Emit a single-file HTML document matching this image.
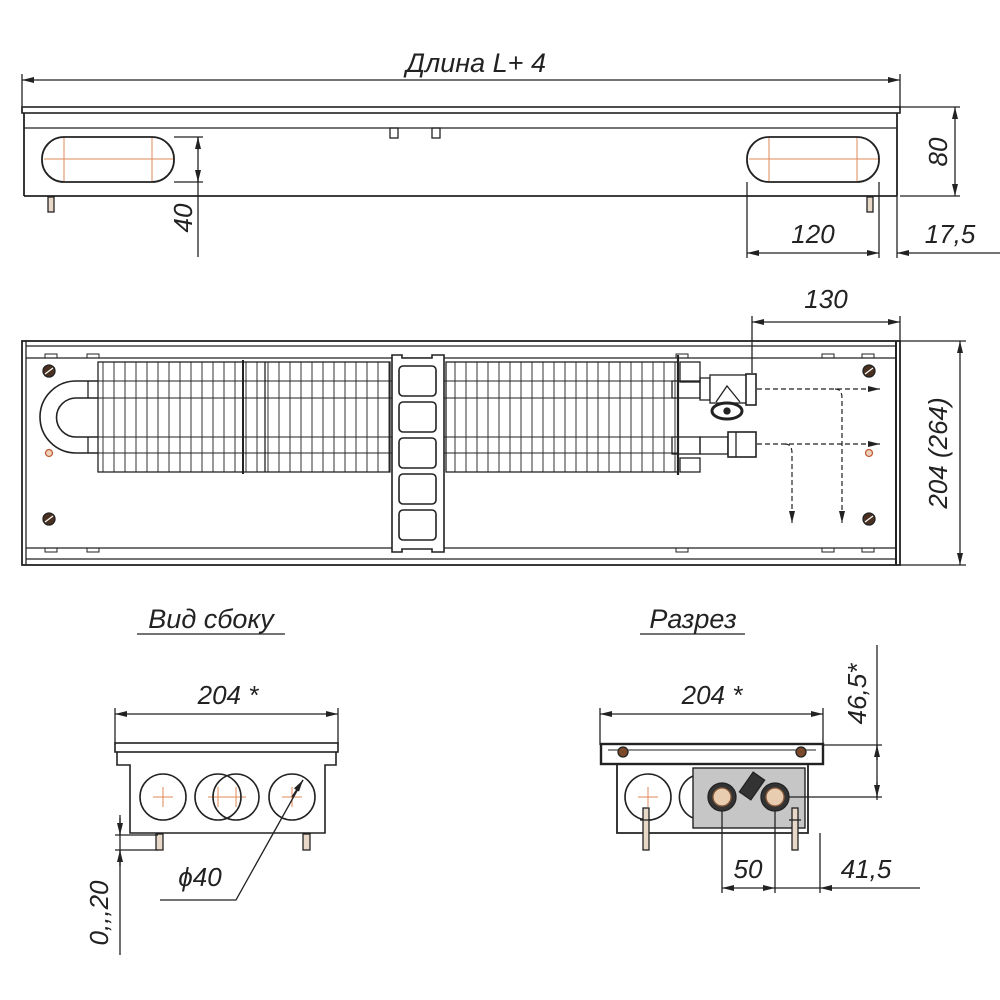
<!DOCTYPE html>
<html><head><meta charset="utf-8"><style>
html,body{margin:0;padding:0;background:#fff}
svg{display:block}
text{font-family:"Liberation Sans",sans-serif;font-style:italic;fill:#222}
</style></head><body>
<svg width="1000" height="1000" viewBox="0 0 1000 1000" xmlns="http://www.w3.org/2000/svg">
<defs>
<marker id="a" viewBox="0 0 12 6" refX="12" refY="3" markerWidth="12" markerHeight="6" orient="auto-start-reverse" markerUnits="userSpaceOnUse"><path d="M0,0 L12,3 L0,6 z" fill="#222"/></marker>
<pattern id="fins" x="98" y="0" width="11" height="10" patternUnits="userSpaceOnUse"><line x1="5" y1="0" x2="5" y2="10" stroke="#333" stroke-width="1"/></pattern>
</defs>
<g stroke="#222" fill="none" stroke-width="1.3">
<!-- TOP VIEW -->
<line x1="22" y1="80" x2="900" y2="80" marker-start="url(#a)" marker-end="url(#a)"/>
<line x1="22" y1="74" x2="22" y2="112"/><line x1="900" y1="74" x2="900" y2="110"/>
<rect x="22" y="107" width="878" height="6" stroke-width="1.6"/>
<line x1="24" y1="113" x2="24" y2="196" stroke-width="1.8"/>
<line x1="897" y1="113" x2="897" y2="196" stroke-width="1.8"/>
<line x1="24" y1="128" x2="897" y2="128"/>
<line x1="24" y1="196" x2="897" y2="196" stroke-width="1.8"/>
<rect x="390" y="128" width="8" height="10"/><rect x="432" y="128" width="8" height="10"/>
<g stroke="#e08a55" stroke-width="1"><line x1="44" y1="159" x2="174" y2="159"/><line x1="64" y1="138" x2="64" y2="181"/><line x1="152" y1="138" x2="152" y2="181"/>
<line x1="749" y1="159" x2="879" y2="159"/><line x1="769" y1="138" x2="769" y2="181"/><line x1="857" y1="138" x2="857" y2="181"/></g>
<rect x="42" y="137" width="132" height="45" rx="22" stroke-width="1.8"/>
<rect x="747" y="137" width="132" height="45" rx="22" stroke-width="1.8"/>
<rect x="48" y="197" width="6" height="15" fill="#e8d8c8"/><rect x="867" y="197" width="6" height="15" fill="#e8d8c8"/>
<line x1="174" y1="137" x2="203" y2="137"/><line x1="174" y1="182" x2="203" y2="182"/>
<line x1="198" y1="137" x2="198" y2="257"/>
<line x1="198" y1="150" x2="198" y2="137" marker-end="url(#a)"/><line x1="198" y1="170" x2="198" y2="182" marker-end="url(#a)"/>
<line x1="900" y1="107" x2="960" y2="107"/><line x1="900" y1="196" x2="960" y2="196"/>
<line x1="955" y1="107" x2="955" y2="196" marker-start="url(#a)" marker-end="url(#a)"/>
<line x1="747" y1="182" x2="747" y2="258"/><line x1="879" y1="182" x2="879" y2="258"/><line x1="897" y1="196" x2="897" y2="258"/>
<line x1="747" y1="253" x2="879" y2="253" marker-start="url(#a)" marker-end="url(#a)"/>
<line x1="1000" y1="253" x2="897" y2="253" marker-end="url(#a)"/>
<!-- PLAN VIEW -->
<rect x="22" y="341" width="878" height="224" stroke-width="1.8"/>
<line x1="26" y1="341" x2="26" y2="565"/><line x1="896" y1="341" x2="896" y2="565" stroke-width="2"/>
<line x1="26" y1="346" x2="896" y2="346"/><line x1="26" y1="358" x2="896" y2="358"/>
<line x1="26" y1="548" x2="896" y2="548"/><line x1="26" y1="559" x2="896" y2="559"/>
<g stroke-width="1"><rect x="45" y="354" width="12" height="4"/><rect x="87" y="354" width="12" height="4"/><rect x="45" y="548" width="12" height="4"/><rect x="87" y="548" width="12" height="4"/>
<rect x="676" y="354" width="12" height="4"/><rect x="822" y="354" width="12" height="4"/><rect x="862" y="354" width="12" height="4"/>
<rect x="676" y="548" width="12" height="4"/><rect x="822" y="548" width="12" height="4"/><rect x="862" y="548" width="12" height="4"/></g>
<!-- fins -->
<rect x="98" y="362" width="292" height="110" fill="url(#fins)"/>
<rect x="446" y="362" width="232" height="110" fill="url(#fins)"/>
<g stroke-width="1"><line x1="98" y1="381" x2="678" y2="381"/><line x1="98" y1="398" x2="678" y2="398"/><line x1="98" y1="437" x2="678" y2="437"/><line x1="98" y1="453" x2="678" y2="453"/></g>
<line x1="243" y1="360" x2="243" y2="474" stroke-width="2"/><line x1="265" y1="362" x2="265" y2="472"/>
<!-- U bend -->
<path d="M98,381 H76 A36,36 0 0 0 76,453 H98 M98,398 H76 A19,19 0 0 0 76,437 H98" stroke-width="1.6"/>
<line x1="88" y1="381" x2="88" y2="398"/><line x1="88" y1="437" x2="88" y2="453"/>
<!-- bracket -->
<path d="M392,355 H402 V358 H432 V355 H444 V552 H432 V549 H402 V552 H392 Z" fill="#fff" stroke-width="1.6"/>
<g stroke-width="1.6"><rect x="399" y="366" width="37" height="30" rx="4"/><rect x="399" y="402" width="37" height="30" rx="4"/><rect x="399" y="438" width="37" height="30" rx="4"/><rect x="399" y="474" width="37" height="30" rx="4"/><rect x="399" y="510" width="37" height="30" rx="4"/></g>
<!-- collector & fittings -->
<line x1="678" y1="355" x2="678" y2="475" stroke-width="2.2"/>
<rect x="680" y="362" width="20" height="20"/><rect x="680" y="458" width="20" height="14"/>
<rect x="672" y="381" width="28" height="17"/><rect x="672" y="437" width="28" height="17"/>
<rect x="700" y="378" width="10" height="22"/>
<rect x="710" y="375" width="38" height="28" fill="#fff"/>
<rect x="746" y="374" width="10" height="31" fill="#fff" stroke-width="1.6"/>
<path d="M716,402 L727,386 L740,402" />
<ellipse cx="727" cy="411" rx="15" ry="8" stroke-width="3"/><circle cx="727" cy="411" r="3" fill="#222"/>
<rect x="700" y="437" width="28" height="17"/>
<rect x="728" y="432" width="28" height="25" fill="#fff" stroke-width="1.6"/><line x1="736" y1="432" x2="736" y2="457"/>
<!-- dashed flow -->
<g stroke-dasharray="5,3" stroke-width="1.2">
<line x1="757" y1="389" x2="880" y2="389" marker-end="url(#a)"/>
<line x1="757" y1="444" x2="880" y2="444" marker-end="url(#a)"/>
<path d="M835,389 Q842,389 842,398 V523" marker-end="url(#a)"/>
<path d="M785,444 Q792,444 792,453 V523" marker-end="url(#a)"/>
</g>
<!-- screws -->
<g fill="#4a3020" stroke="#222"><circle cx="49" cy="371" r="6"/><circle cx="49" cy="519" r="6"/><circle cx="869" cy="371" r="6"/><circle cx="869" cy="519" r="6"/></g>
<g stroke="#fff" stroke-width="1.2"><line x1="45" y1="374" x2="53" y2="368"/><line x1="45" y1="522" x2="53" y2="516"/><line x1="865" y1="374" x2="873" y2="368"/><line x1="865" y1="522" x2="873" y2="516"/></g>
<circle cx="49" cy="453" r="3.5" stroke="#c0603a" fill="#f0d0b8"/><circle cx="869" cy="453" r="3.5" stroke="#c0603a" fill="#f0d0b8"/>
<!-- dims plan -->
<line x1="752" y1="373" x2="752" y2="316"/><line x1="900" y1="341" x2="900" y2="316"/>
<line x1="752" y1="322" x2="900" y2="322" marker-start="url(#a)" marker-end="url(#a)"/>
<line x1="900" y1="341" x2="966" y2="341"/><line x1="900" y1="565" x2="966" y2="565"/>
<line x1="960" y1="341" x2="960" y2="565" marker-start="url(#a)" marker-end="url(#a)"/>
<!-- titles underline -->
<line x1="137" y1="634" x2="285" y2="634"/><line x1="640" y1="634" x2="745" y2="634"/>
<!-- SIDE VIEW -->
<line x1="115" y1="708" x2="115" y2="745"/><line x1="338" y1="708" x2="338" y2="745"/>
<line x1="115" y1="714" x2="338" y2="714" marker-start="url(#a)" marker-end="url(#a)"/>
<rect x="115" y="743" width="223" height="9" stroke-width="1.6"/>
<path d="M117,752 V765 H130 V833 H325 V765 H336 V752" stroke-width="1.6"/>
<g stroke="#e08a55" stroke-width="1"><path d="M153,797 h20 M163,787 v20 M208,797 h38 M218,787 v20 M236,787 v20 M282,797 h20 M292,787 v20"/></g>
<g stroke-width="1.6"><circle cx="163" cy="797" r="23"/><circle cx="218" cy="797" r="23"/><circle cx="236" cy="797" r="23"/><circle cx="292" cy="797" r="23"/></g>
<rect x="156" y="834" width="7" height="16" fill="#e8d8c8"/><rect x="303" y="834" width="7" height="16" fill="#e8d8c8"/>
<path d="M303,780 L236,900 H160"/>
<line x1="292" y1="797" x2="303" y2="780" marker-end="url(#a)"/>
<line x1="115" y1="835" x2="158" y2="835"/><line x1="115" y1="850" x2="158" y2="850"/>
<line x1="120" y1="815" x2="120" y2="955"/>
<line x1="120" y1="818" x2="120" y2="835" marker-end="url(#a)"/><line x1="120" y1="866" x2="120" y2="850" marker-end="url(#a)"/>
<!-- SECTION -->
<line x1="600" y1="708" x2="600" y2="745"/><line x1="823" y1="708" x2="823" y2="745"/>
<line x1="600" y1="714" x2="823" y2="714" marker-start="url(#a)" marker-end="url(#a)"/>
<rect x="601" y="744" width="222" height="20" stroke-width="2.4"/>
<line x1="608" y1="750" x2="816" y2="750" stroke-width="1"/>
<path d="M617,765 V833 H808 V765" stroke-width="1.8"/>
<rect x="693" y="768" width="112" height="60" fill="#c6c6c6" stroke-width="1.4"/>
<path d="M693,776 A23,23 0 0 0 693,818" stroke-width="1.6"/>
<circle cx="648" cy="797" r="23" stroke-width="1.6"/>
<path d="M638,797 h20 M648,787 v20" stroke="#e08a55" stroke-width="1"/>
<circle cx="722" cy="797" r="14" fill="#333"/><circle cx="722" cy="797" r="9" fill="#e8cdb0" stroke="#8a5a3a"/>
<circle cx="775" cy="797" r="14" fill="#333"/><circle cx="775" cy="797" r="9" fill="#e8cdb0" stroke="#8a5a3a"/>
<rect x="745" y="774" width="14" height="24" fill="#333" transform="rotate(35 752 786)"/>
<g fill="#7a4a2a" stroke="#222"><circle cx="623" cy="752" r="5"/><circle cx="801" cy="752" r="5"/></g>
<rect x="643" y="808" width="6" height="42" fill="#e8d8c8"/><rect x="792" y="808" width="6" height="42" fill="#e8d8c8"/>
<line x1="640" y1="820" x2="652" y2="820"/><line x1="789" y1="820" x2="801" y2="820"/>
<line x1="823" y1="745" x2="882" y2="745"/><line x1="789" y1="797" x2="882" y2="797"/>
<line x1="877" y1="645" x2="877" y2="800"/>
<line x1="877" y1="760" x2="877" y2="745" marker-end="url(#a)"/><line x1="877" y1="782" x2="877" y2="797" marker-end="url(#a)"/>
<line x1="722" y1="811" x2="722" y2="893"/><line x1="775" y1="811" x2="775" y2="893"/><line x1="820" y1="833" x2="820" y2="893"/>
<line x1="722" y1="888" x2="775" y2="888" marker-start="url(#a)" marker-end="url(#a)"/>
<line x1="775" y1="888" x2="820" y2="888"/>
<line x1="920" y1="888" x2="820" y2="888" marker-end="url(#a)"/>
</g>
<!-- TEXT -->
<text x="476" y="72" font-size="27" text-anchor="middle">Длина L+ 4</text>
<text x="813" y="243" font-size="26" text-anchor="middle">120</text>
<text x="950" y="243" font-size="26" text-anchor="middle">17,5</text>
<text transform="translate(192,218) rotate(-90)" font-size="26" text-anchor="middle">40</text>
<text transform="translate(947,152) rotate(-90)" font-size="26" text-anchor="middle">80</text>
<text x="826" y="308" font-size="26" text-anchor="middle">130</text>
<text transform="translate(947,453) rotate(-90)" font-size="26" text-anchor="middle">204 (264)</text>
<text x="211" y="628" font-size="27" text-anchor="middle">Вид сбоку</text>
<text x="693" y="628" font-size="27" text-anchor="middle">Разрез</text>
<text x="228" y="704" font-size="26" text-anchor="middle">204 *</text>
<text x="712" y="704" font-size="26" text-anchor="middle">204 *</text>
<text x="200" y="886" font-size="26" text-anchor="middle">ϕ40</text>
<text transform="translate(108,913) rotate(-90)" font-size="26" text-anchor="middle">0,,,20</text>
<text transform="translate(866,694) rotate(-90)" font-size="26" text-anchor="middle">46,5*</text>
<text x="748" y="878" font-size="26" text-anchor="middle">50</text>
<text x="866" y="878" font-size="26" text-anchor="middle">41,5</text>
</svg>
</body></html>
